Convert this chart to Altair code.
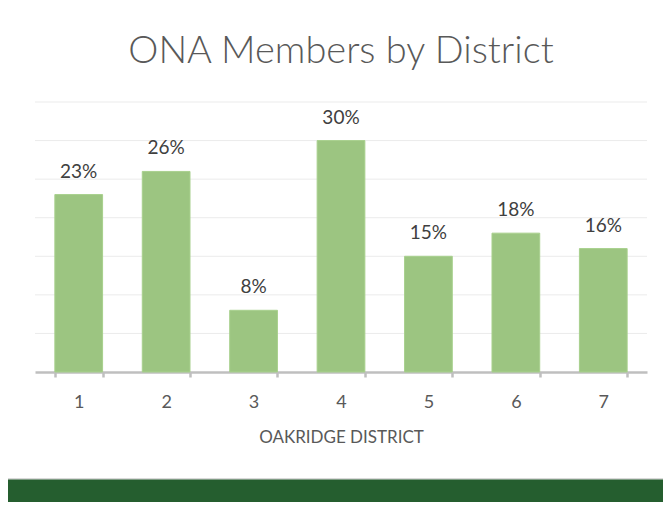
import altair as alt
import pandas as pd

districts = ["1", "2", "3", "4", "5", "6", "7"]
shares = [0.23, 0.26, 0.08, 0.30, 0.15, 0.18, 0.16]
grid_values = [0.05, 0.10, 0.15, 0.20, 0.25, 0.30, 0.35]

df = pd.DataFrame({"district": districts, "share": shares})
grid_df = pd.DataFrame({"share": grid_values})

FONT = "Lato"
y_scale = alt.Scale(domain=[0, 0.35], nice=False)

x_enc = alt.X(
    "district:N",
    sort=districts,
    scale=alt.Scale(paddingInner=0.454, paddingOuter=0.227),
    axis=alt.Axis(
        title="OAKRIDGE DISTRICT",
        labelAngle=0,
        labelFontSize=18,
        labelColor="#595959",
        labelFont=FONT,
        labelPadding=16,
        titleFontSize=17,
        titleColor="#595959",
        titleFont=FONT,
        titleFontWeight="normal",
        titlePadding=18,
        domainColor="#bfbfbf",
        domainWidth=2.5,
        tickColor="#bfbfbf",
        tickWidth=2.5,
        tickSize=5,
        tickBand="extent",
        grid=False,
    ),
)

strip = alt.Chart(grid_df).mark_rect(color="#255e2f", stroke="#d9d9d9", strokeWidth=1).encode(
    x=alt.value(-30), x2=alt.value(640), y=alt.value(377), y2=alt.value(420)
)

grid = alt.Chart(grid_df).mark_rule(color="#ebebeb", strokeWidth=1).encode(
    y=alt.Y("share:Q", scale=y_scale, axis=None),
    x=alt.value(0),
    x2=alt.value(612),
)

base = alt.Chart(df)

bars = base.mark_bar(color="#9cc581", stroke="#a8d08d", strokeWidth=1).encode(
    x=x_enc, y=alt.Y("share:Q", scale=y_scale, axis=None)
)

labels = base.mark_text(
    font=FONT, fontSize=19, color="#404040", baseline="middle", dy=-23
).encode(
    x=alt.X("district:N", sort=districts),
    y=alt.Y("share:Q", scale=y_scale, axis=None),
    text=alt.Text("share:Q", format=".0%"),
)

chart = (
    alt.layer(strip, grid, bars, labels)
    .properties(
        width=612,
        height=270,
        title=alt.TitleParams(
            "ONA Members by District",
            font=FONT,
            fontSize=38,
            fontWeight=300,
            color="#595959",
            anchor="middle",
            offset=31,
        ),
        autosize=alt.AutoSizeParams(type="none"),
        padding={"left": 27, "top": 94, "right": 16, "bottom": 130},
        background="white",
    )
    .configure_view(stroke=None)
)

chart.save("out.html", embed_options={"renderer": "svg", "actions": False})
